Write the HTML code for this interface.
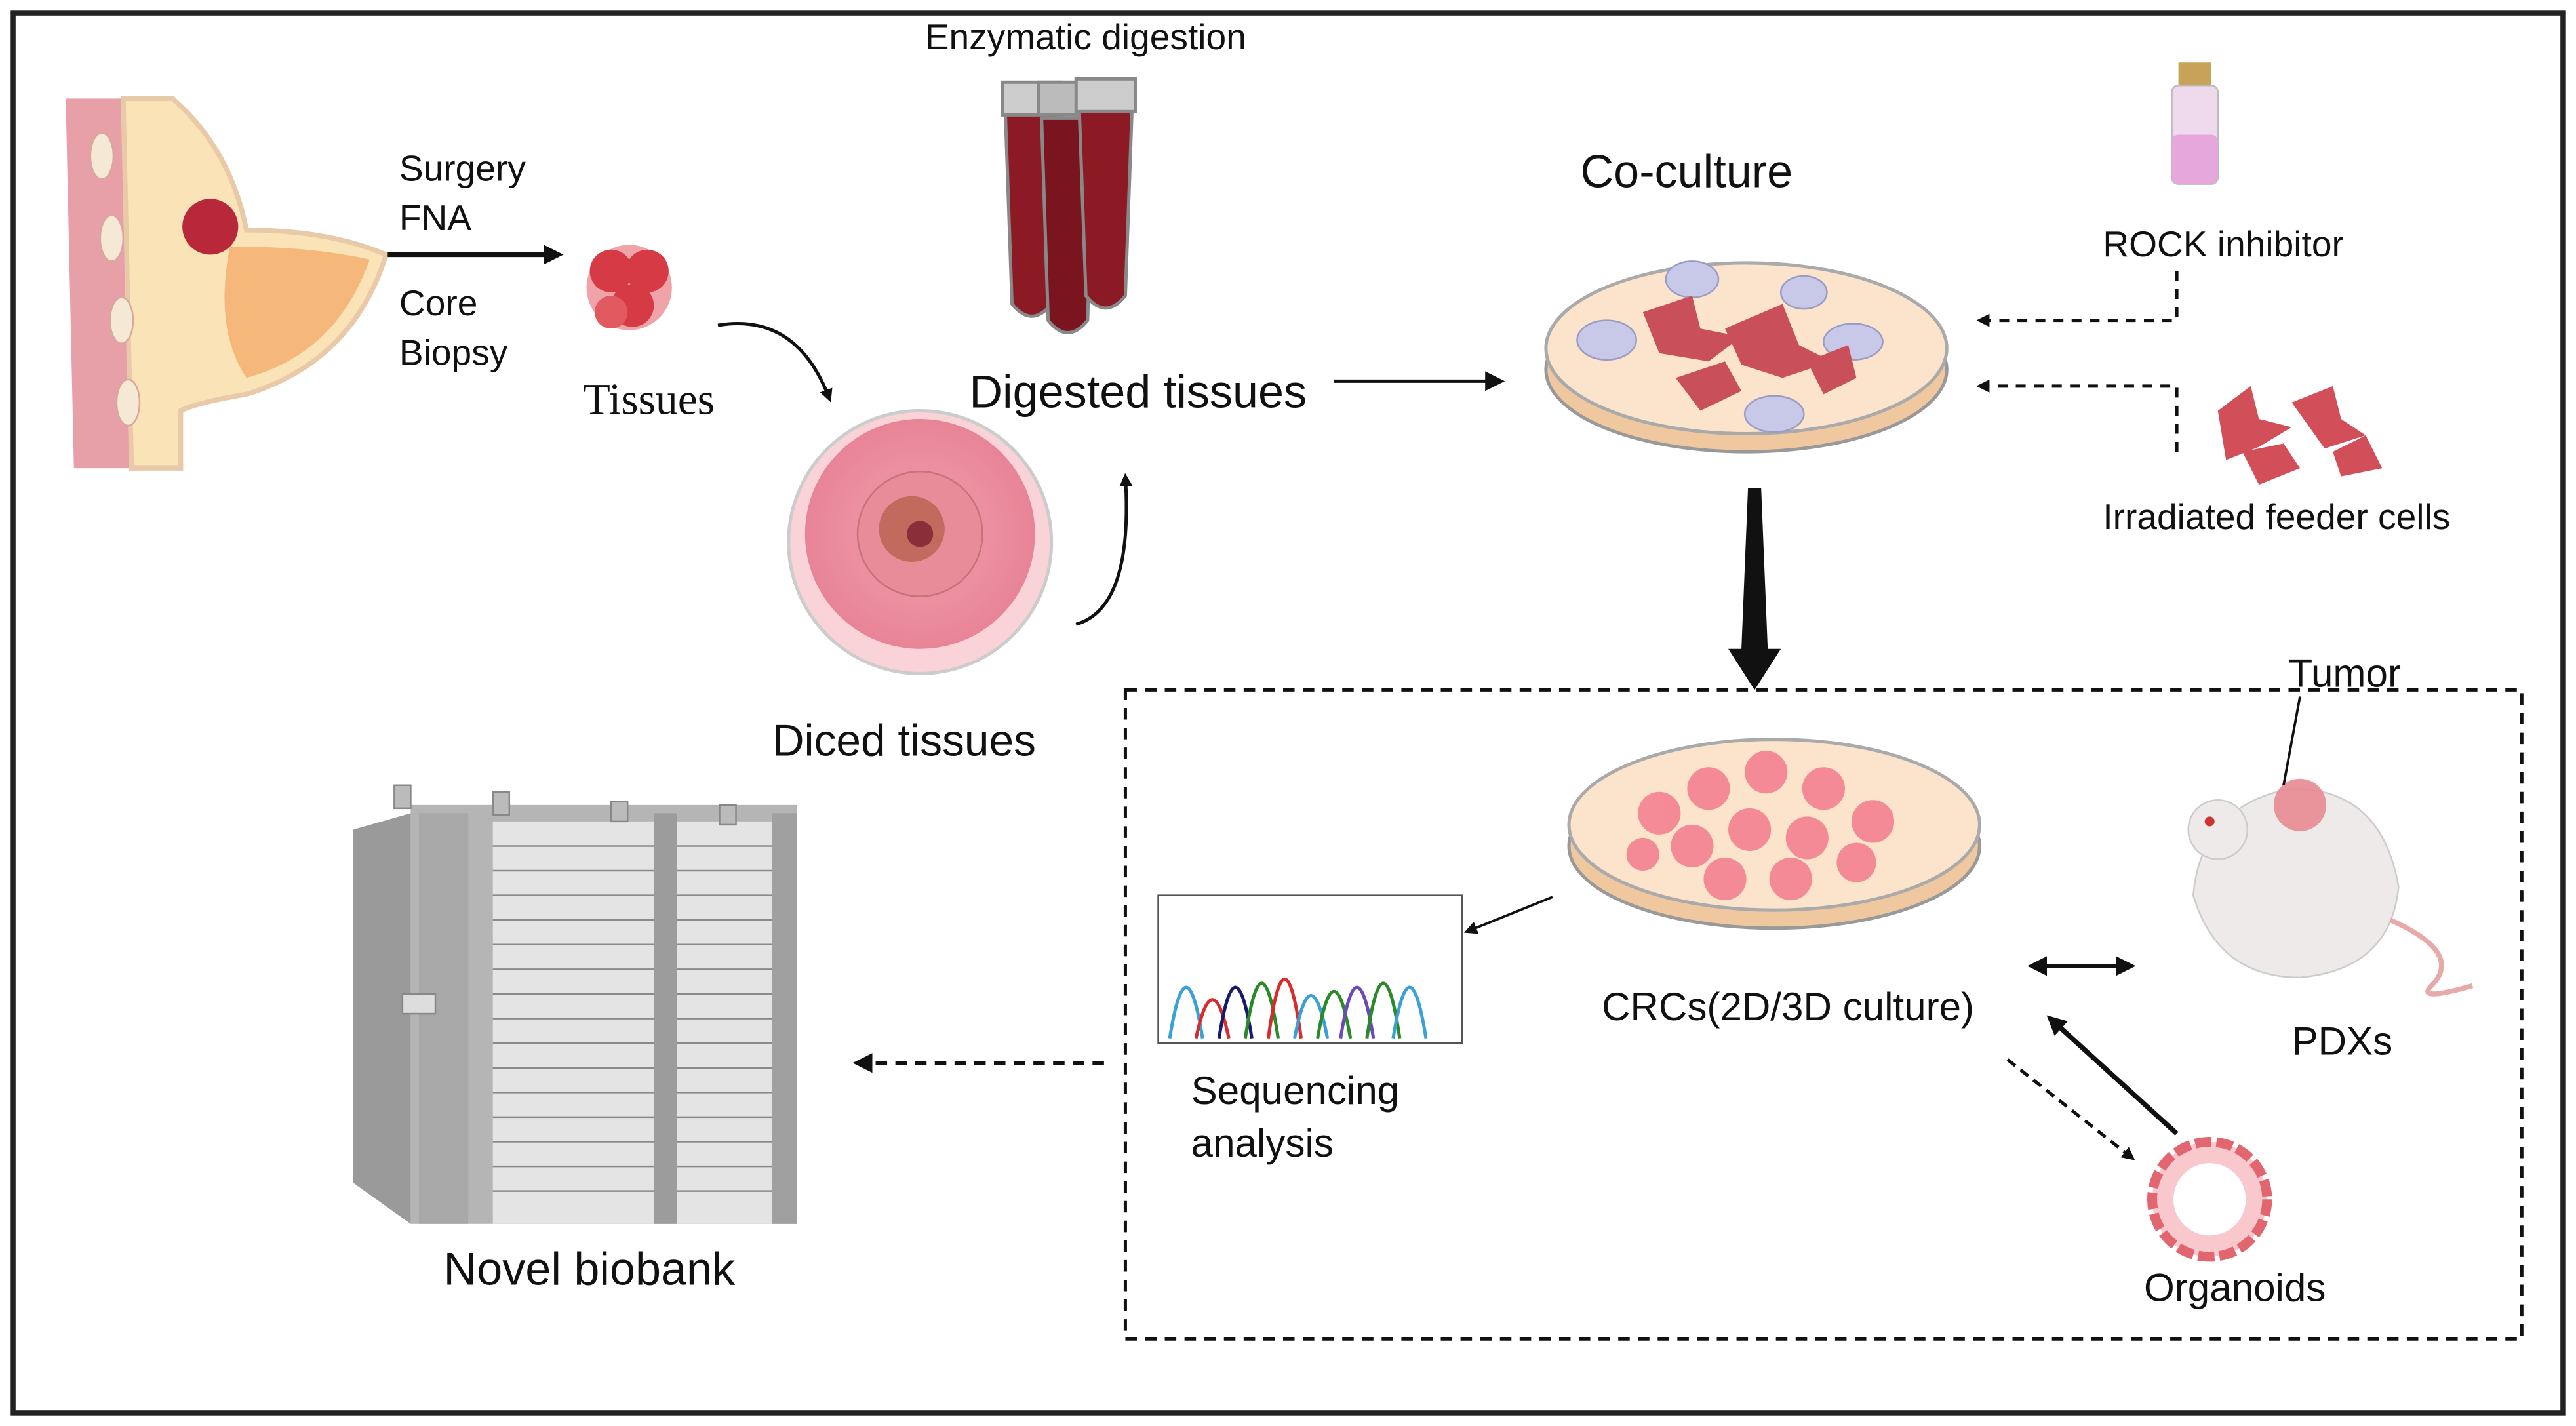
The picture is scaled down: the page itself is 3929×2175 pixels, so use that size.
<!DOCTYPE html>
<html><head><meta charset="utf-8"><style>
html,body{margin:0;padding:0;background:#fff;}
svg{display:block;}
text{font-family:"Liberation Sans",sans-serif;fill:#111;}
</style></head><body>
<svg width="3929" height="2175" viewBox="0 0 1568 868" xmlns="http://www.w3.org/2000/svg">
<defs>
<marker id="ah" markerWidth="8" markerHeight="8" refX="6" refY="4" orient="auto" markerUnits="userSpaceOnUse"><path d="M0,0 L8,4 L0,8 z" fill="#111"/></marker>
<marker id="ahs" markerWidth="12" markerHeight="12" refX="9" refY="6" orient="auto" markerUnits="userSpaceOnUse"><path d="M0,0 L12,6 L0,12 z" fill="#111"/></marker>
<marker id="ahb" markerWidth="12" markerHeight="12" refX="2" refY="6" orient="auto-start-reverse" markerUnits="userSpaceOnUse"><path d="M0,0 L12,6 L0,12 z" fill="#111"/></marker>
<radialGradient id="dishp" cx="50%" cy="50%" r="50%"><stop offset="0" stop-color="#f2a0ad"/><stop offset="1" stop-color="#e88497"/></radialGradient>
</defs>
<rect x="8" y="8" width="1552" height="852" fill="none" stroke="#222" stroke-width="3"/>

<!-- breast -->
<path d="M40,60 L80,60 L80,285 L45,285 Z" fill="#e8a0a8"/>
<path d="M75,60 L105,60 Q140,90 150,140 Q200,140 235,155 Q215,220 150,240 Q120,245 110,250 L110,285 L80,285 Z" fill="#fbe3b8" stroke="#e8c9a8" stroke-width="3"/>
<path d="M140,150 Q190,150 225,158 Q205,215 150,230 Q130,200 140,150 Z" fill="#f6b77a"/>
<circle cx="128" cy="138" r="17" fill="#b8283a"/>
<g fill="#f5e9d5" stroke="#d9a89c"><ellipse cx="62" cy="95" rx="7" ry="14"/><ellipse cx="68" cy="145" rx="7" ry="14"/><ellipse cx="74" cy="195" rx="7" ry="14"/><ellipse cx="78" cy="245" rx="7" ry="14"/></g>

<text x="243" y="110" font-size="22">Surgery</text>
<text x="243" y="140" font-size="22">FNA</text>
<text x="243" y="192" font-size="22">Core</text>
<text x="243" y="222" font-size="22">Biopsy</text>
<line x1="236" y1="155" x2="340" y2="155" stroke="#111" stroke-width="3" marker-end="url(#ahs)"/>

<!-- tissues -->
<g><circle cx="383" cy="175" r="26" fill="#f0a3a8"/><circle cx="372" cy="165" r="13" fill="#d63b45"/><circle cx="394" cy="165" r="13" fill="#d63b45"/><circle cx="385" cy="186" r="13" fill="#d63b45"/><circle cx="372" cy="190" r="10" fill="#e05a60"/></g>
<text x="355" y="252" font-size="27" style="font-family:'Liberation Serif',serif">Tissues</text>
<path d="M437,198 Q485,190 505,243" fill="none" stroke="#111" stroke-width="2" marker-end="url(#ah)"/>

<!-- diced dish -->
<circle cx="560" cy="330" r="80" fill="#f9d3d8" stroke="#ccc" stroke-width="2"/>
<circle cx="560" cy="325" r="70" fill="url(#dishp)"/>
<circle cx="560" cy="325" r="38" fill="#e88c9a" stroke="#c7707e"/>
<circle cx="555" cy="322" r="20" fill="#c26a5e"/>
<circle cx="560" cy="325" r="8" fill="#8a2f3a"/>
<text x="470" y="460" font-size="27">Diced tissues</text>
<path d="M655,380 Q690,370 685,290" fill="none" stroke="#111" stroke-width="2" marker-end="url(#ah)"/>

<!-- tubes -->
<text x="563" y="30" font-size="22">Enzymatic digestion</text>
<g stroke="#888" stroke-width="2">
<rect x="610" y="50" width="36" height="20" fill="#ccc"/><rect x="632" y="50" width="36" height="20" fill="#bbb"/><rect x="655" y="48" width="36" height="20" fill="#ccc"/>
<path d="M612,70 L644,70 L640,185 Q628,200 616,185 Z" fill="#8c1a24"/>
<path d="M634,72 L666,72 L662,195 Q650,210 638,195 Z" fill="#7a1520"/>
<path d="M657,68 L689,68 L685,180 Q673,195 661,180 Z" fill="#8c1a24"/>
</g>
<text x="590" y="248" font-size="28">Digested tissues</text>
<line x1="812" y1="232" x2="913" y2="232" stroke="#111" stroke-width="2" marker-end="url(#ahs)"/>

<!-- co-culture dish -->
<text x="962" y="114" font-size="28">Co-culture</text>
<ellipse cx="1063" cy="225" rx="122" ry="50" fill="#f0c8a0" stroke="#999" stroke-width="2"/>
<ellipse cx="1063" cy="212" rx="122" ry="52" fill="#fbe3cc" stroke="#aaa" stroke-width="2"/>
<g fill="#c8c9e8" stroke="#9a9cc4"><ellipse cx="978" cy="207" rx="18" ry="12"/><ellipse cx="1030" cy="170" rx="16" ry="11"/><ellipse cx="1128" cy="208" rx="18" ry="11"/><ellipse cx="1080" cy="252" rx="18" ry="11"/><ellipse cx="1098" cy="178" rx="14" ry="10"/></g>
<g fill="#c9505a"><path d="M1000,190 l30,-10 l5,20 l25,5 l-20,15 l-30,-5z"/><path d="M1050,200 l35,-15 l10,25 l20,10 l-30,10 l-25,-8z"/><path d="M1100,220 l25,-10 l5,20 l-20,10z"/><path d="M1020,230 l30,-10 l10,18 l-25,12z"/></g>

<!-- ROCK -->
<rect x="1326" y="38" width="20" height="14" fill="#c9a25a"/>
<rect x="1322" y="52" width="28" height="60" rx="4" fill="#efd9ec" stroke="#bbb"/>
<rect x="1322" y="82" width="28" height="30" rx="4" fill="#e6a8dc"/>
<text x="1280" y="156" font-size="22">ROCK inhibitor</text>
<path d="M1325,165 L1325,195 L1205,195" fill="none" stroke="#111" stroke-width="2" stroke-dasharray="6,5" marker-end="url(#ah)"/>
<g fill="#d24e58"><path d="M1350,250 l20,-15 l5,20 l20,5 l-20,12 l-20,8z"/><path d="M1395,245 l25,-10 l5,20 l15,10 l-25,8z"/><path d="M1365,275 l25,-5 l10,15 l-25,10z"/><path d="M1420,275 l20,-10 l10,20 l-25,5z"/></g>
<text x="1280" y="322" font-size="22">Irradiated feeder cells</text>
<path d="M1325,275 L1325,235 L1205,235" fill="none" stroke="#111" stroke-width="2" stroke-dasharray="6,5" marker-end="url(#ah)"/>

<!-- big arrow -->
<path d="M1064,297 L1072,297 L1076,395 L1084,395 L1068,420 L1052,395 L1060,395 Z" fill="#111"/>

<!-- dashed box -->
<rect x="685" y="420" width="850" height="395" fill="none" stroke="#111" stroke-width="2" stroke-dasharray="7,5"/>

<!-- CRC dish -->
<ellipse cx="1080" cy="515" rx="125" ry="50" fill="#f0c8a0" stroke="#999" stroke-width="2"/>
<ellipse cx="1080" cy="502" rx="125" ry="52" fill="#fbe3cc" stroke="#aaa" stroke-width="2"/>
<g fill="#f27b8c" opacity="0.85"><circle cx="1010" cy="495" r="13"/><circle cx="1040" cy="480" r="13"/><circle cx="1075" cy="470" r="13"/><circle cx="1110" cy="480" r="13"/><circle cx="1140" cy="500" r="13"/><circle cx="1030" cy="515" r="13"/><circle cx="1065" cy="505" r="13"/><circle cx="1100" cy="510" r="13"/><circle cx="1050" cy="535" r="13"/><circle cx="1090" cy="535" r="13"/><circle cx="1130" cy="525" r="12"/><circle cx="1000" cy="520" r="10"/></g>
<text x="975" y="621" font-size="24">CRCs(2D/3D culture)</text>
<line x1="1244" y1="588" x2="1297" y2="588" stroke="#111" stroke-width="2.5" marker-start="url(#ahb)" marker-end="url(#ahs)"/>

<!-- mouse -->
<path d="M1335,545 Q1340,490 1395,480 Q1450,480 1460,540 Q1455,590 1400,595 Q1350,595 1335,545 Z" fill="#eeeaea" stroke="#ccc"/>
<circle cx="1350" cy="505" r="18" fill="#eeeaea" stroke="#ccc"/>
<circle cx="1345" cy="500" r="3" fill="#c33"/>
<circle cx="1400" cy="490" r="16" fill="#e88a92" opacity="0.9"/>
<path d="M1455,560 Q1500,580 1480,600 Q1470,610 1505,600" fill="none" stroke="#e8a9a9" stroke-width="3"/>
<text x="1393" y="418" font-size="24">Tumor</text>
<line x1="1400" y1="424" x2="1390" y2="478" stroke="#111" stroke-width="1.5"/>
<text x="1395" y="642" font-size="24">PDXs</text>

<!-- organoid -->
<circle cx="1345" cy="730" r="35" fill="#f8c8cc" stroke="#e26670" stroke-width="6" stroke-dasharray="10,3"/>
<circle cx="1345" cy="730" r="22" fill="#fff"/>
<text x="1305" y="792" font-size="24">Organoids</text>
<line x1="1325" y1="690" x2="1248" y2="620" stroke="#111" stroke-width="3" marker-end="url(#ahs)"/>
<line x1="1222" y1="645" x2="1298" y2="705" stroke="#111" stroke-width="2" stroke-dasharray="6,4" marker-end="url(#ah)"/>

<!-- sequencing -->
<rect x="705" y="545" width="185" height="90" fill="#fff" stroke="#555"/>
<g fill="none" stroke-width="2">
<path d="M712,632 Q722,570 732,632" stroke="#3aa0d8"/><path d="M728,632 Q738,585 748,632" stroke="#d92b2b"/><path d="M742,632 Q752,570 762,632" stroke="#1a1a6a"/><path d="M758,632 Q768,565 778,632" stroke="#2a8a2a"/><path d="M772,632 Q782,560 792,632" stroke="#d92b2b"/><path d="M788,632 Q798,580 808,632" stroke="#3aa0d8"/><path d="M802,632 Q812,575 822,632" stroke="#2a8a2a"/><path d="M816,632 Q826,570 836,632" stroke="#6a4ab8"/><path d="M832,632 Q842,565 852,632" stroke="#2a8a2a"/><path d="M848,632 Q858,570 868,632" stroke="#3aa0d8"/>
</g>
<text x="725" y="672" font-size="24">Sequencing</text>
<text x="725" y="704" font-size="24">analysis</text>
<line x1="945" y1="546" x2="893" y2="567" stroke="#111" stroke-width="1.5" marker-end="url(#ah)"/>
<line x1="672" y1="647" x2="522" y2="647" stroke="#111" stroke-width="2.5" stroke-dasharray="7,5" marker-end="url(#ahs)"/>

<!-- biobank -->
<path d="M215,505 L250,495 L250,745 L215,720 Z" fill="#9a9a9a"/>
<rect x="250" y="490" width="235" height="255" fill="#b5b5b5"/>
<rect x="255" y="495" width="30" height="250" fill="#a8a8a8"/>
<rect x="300" y="500" width="100" height="245" fill="#e4e4e4"/>
<rect x="410" y="500" width="60" height="245" fill="#e4e4e4"/>
<g stroke="#8a8a8a" stroke-width="1">
<line x1="300" y1="515" x2="470" y2="515"/><line x1="300" y1="530" x2="470" y2="530"/><line x1="300" y1="545" x2="470" y2="545"/><line x1="300" y1="560" x2="470" y2="560"/><line x1="300" y1="575" x2="470" y2="575"/><line x1="300" y1="590" x2="470" y2="590"/><line x1="300" y1="605" x2="470" y2="605"/><line x1="300" y1="620" x2="470" y2="620"/><line x1="300" y1="635" x2="470" y2="635"/><line x1="300" y1="650" x2="470" y2="650"/><line x1="300" y1="665" x2="470" y2="665"/><line x1="300" y1="680" x2="470" y2="680"/><line x1="300" y1="695" x2="470" y2="695"/><line x1="300" y1="710" x2="470" y2="710"/><line x1="300" y1="725" x2="470" y2="725"/></g>
<rect x="398" y="495" width="14" height="250" fill="#9c9c9c"/>
<rect x="470" y="495" width="15" height="250" fill="#a0a0a0"/>
<rect x="245" y="605" width="20" height="12" fill="#ddd" stroke="#888"/>
<g fill="#bbb" stroke="#888"><rect x="240" y="478" width="10" height="14"/><rect x="300" y="482" width="10" height="14"/><rect x="372" y="488" width="10" height="12"/><rect x="438" y="490" width="10" height="12"/></g>
<text x="270" y="782" font-size="28">Novel biobank</text>
</svg>
</body></html>
